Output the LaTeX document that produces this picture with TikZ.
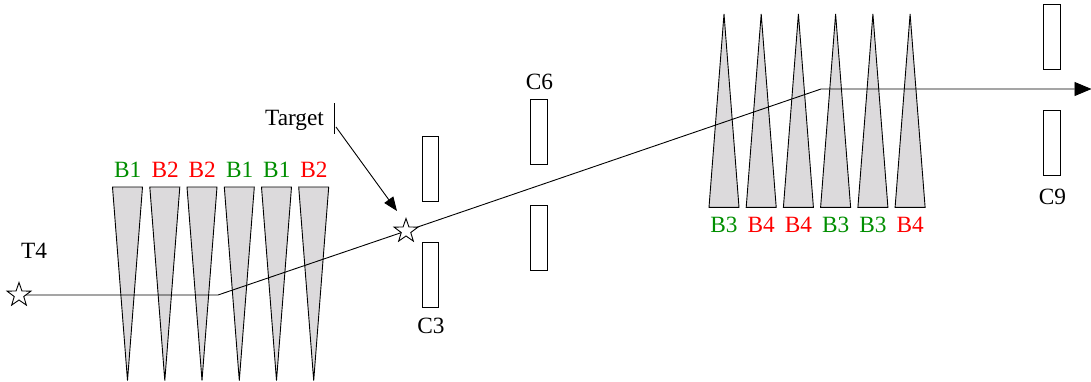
\documentclass[tikz,border=0pt]{standalone}
\usepackage{fontspec}
\setmainfont{Liberation Serif}
\usetikzlibrary{shapes.geometric,arrows.meta}
\definecolor{bgreen}{HTML}{008E00}
\definecolor{bred}{HTML}{FF0000}
\definecolor{wedge}{HTML}{DCDADC}
\tikzset{
  wedgeshape/.style={draw=black,fill=wedge,line width=0.9pt,line join=miter,miter limit=2},
  lab/.style={anchor=base,inner sep=0pt,font=\fontsize{23.3}{25}\selectfont},
  collim/.style={draw=black,line width=0.9pt,fill=white,minimum width=16.6pt,minimum height=65pt,inner sep=0pt,outer sep=0pt},
  starmark/.style={star,star points=5,star point ratio=2.5,draw=black,fill=white,line width=0.9pt,minimum size=25pt,inner sep=0pt,outer sep=0pt},
  beam/.style={draw=black,line width=0.9pt},
  tipb/.style={-{Triangle[length=17pt,width=14pt]}}
}
\begin{document}
\begin{tikzpicture}[x=1pt,y=-1pt]
\useasboundingbox (0,0) rectangle (1091,381);
% lower wedges and labels
\foreach \n/\c/\t/\k in {1/127.5/B1/bgreen,2/164.8/B2/bred,3/202/B2/bred,4/239.3/B1/bgreen,5/276.5/B1/bgreen,6/313.7/B2/bred}{
  \draw[wedgeshape] (\c-15,187) -- (\c+15,187) -- (\c,380.5) -- cycle;
  \node[lab,text=\k] (lo\n) at (\c+0.3,177) {\t};
}
% upper wedges and labels
\foreach \n/\c/\t/\k in {1/724/B3/bgreen,2/761.2/B4/bred,3/798.4/B4/bred,4/835.6/B3/bgreen,5/872.9/B3/bgreen,6/910.1/B4/bred}{
  \draw[wedgeshape] (\c-15,207.3) -- (\c+15,207.3) -- (\c,14) -- cycle;
  \node[lab,text=\k] (up\n) at (\c,232.7) {\t};
}
% collimators
\node[collim] (c3a) at (430.4,168.8) {};
\node[collim] (c3b) at (430.4,275.2) {};
\node[collim] (c6a) at (539.1,131.8) {};
\node[collim] (c6b) at (539.1,237.8) {};
\node[collim] (c9a) at (1052.1,36.8) {};
\node[collim] (c9b) at (1052.1,142.8) {};
\node[lab] (c3l) at (431,333) {C3};
\node[lab] (c6l) at (539.5,89) {C6};
\node[lab] (c9l) at (1052.5,204) {C9};
\node[lab] (t4l) at (34,258) {T4};
\node[lab] (tgl) at (294.5,125) {Target};
% beam
\node[starmark] (t4) at (19,295) {};
\node[starmark] (tg) at (406,231) {};
\coordinate (b1) at (218,295);
\coordinate (b2) at (821,89);
\coordinate (bend) at (1091.5,89);
\draw[beam] (t4) -- (b1) -- (tg);
\draw[beam,tipb] (tg) -- (b2) -- (bend);
% target foil and pointer
\coordinate (f1) at (334,103);
\coordinate (f2) at (334,134);
\coordinate (pt) at (336,127);
\coordinate (ph) at (397,211);
\draw[beam,line width=0.7pt] (f1) -- (f2);
\draw[beam,-{Triangle[length=14pt,width=11pt]}] (pt) -- (ph);
\end{tikzpicture}
\end{document}
